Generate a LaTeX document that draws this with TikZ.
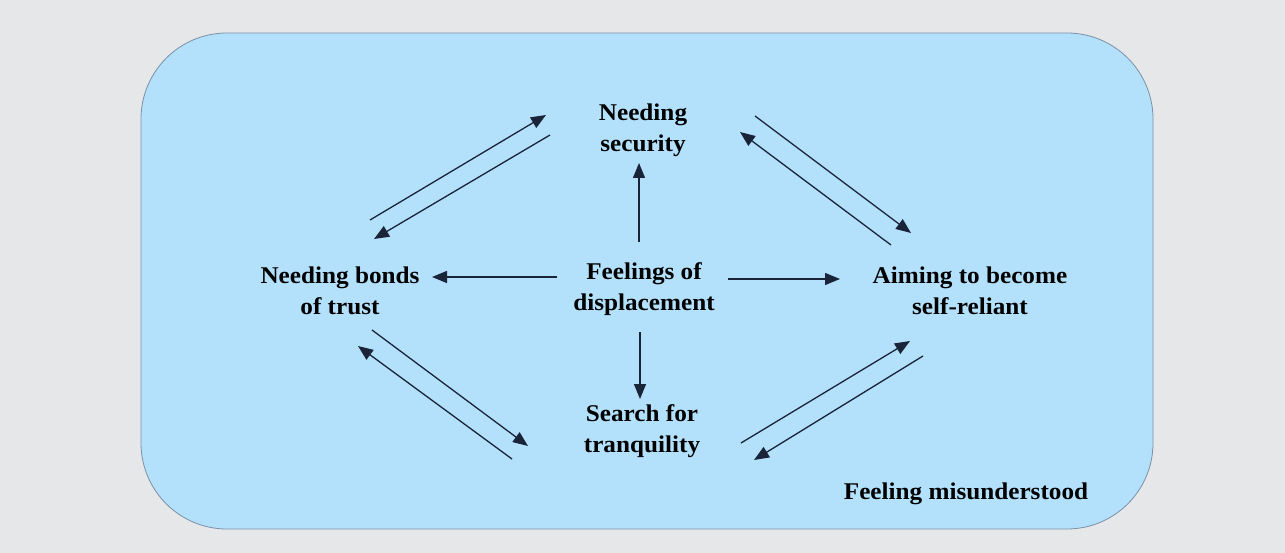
\documentclass[tikz,border=0pt]{standalone}
\usepackage{fontspec}
\setmainfont[FakeStretch=1.05]{Liberation Serif}
\usetikzlibrary{arrows.meta}
\definecolor{bggrey}{HTML}{E6E7E8}
\definecolor{boxblue}{HTML}{B3E1FC}
\definecolor{boxline}{HTML}{7C90A8}
\definecolor{arrcol}{HTML}{1A2438}
\tikzset{
  lbl/.style={align=center, inner sep=0pt, font=\bfseries\fontsize{24}{31}\selectfont, text=black},
  arr/.style={draw=arrcol, line width=1.3pt, -{Triangle[length=15pt,width=12pt]}},
}
\begin{document}
\begin{tikzpicture}[x=1pt,y=-1pt]
\path[use as bounding box, fill=bggrey] (0,0) rectangle (1285,553);
\path[fill=boxblue, draw=boxline, line width=0.8pt, rounded corners=86pt] (141,33) rectangle (1153,529);

\node[lbl] (sec) at (643,130) {Needing\\security};
\node[lbl] (bond) at (340,291) {Needing bonds\\of trust};
\node[lbl] (feel) at (644,289) {Feelings of\\displacement};
\node[lbl] (aim) at (970,291) {Aiming to become\\self-reliant};
\node[lbl] (calm) at (642,431) {Search for\\tranquility};
\node[lbl] (mis) at (966,494) {Feeling misunderstood};

% central arrows
\coordinate (cU1) at (639,242); \coordinate (cU2) at (639,163);
\coordinate (cL1) at (557,277); \coordinate (cL2) at (432,277);
\coordinate (cR1) at (728,279); \coordinate (cR2) at (840,279);
\coordinate (cD1) at (640,332); \coordinate (cD2) at (640,399);
\draw[arr] (cU1) -- (cU2);
\draw[arr] (cL1) -- (cL2);
\draw[arr] (cR1) -- (cR2);
\draw[arr] (cD1) -- (cD2);

% top-left pair
\coordinate (tl1) at (370,220); \coordinate (tl2) at (546,115);
\coordinate (tl3) at (550,135); \coordinate (tl4) at (374,239);
\draw[arr] (tl1) -- (tl2);
\draw[arr] (tl3) -- (tl4);

% top-right pair
\coordinate (tr1) at (755,116); \coordinate (tr2) at (911,233);
\coordinate (tr3) at (891,245); \coordinate (tr4) at (740,132);
\draw[arr] (tr1) -- (tr2);
\draw[arr] (tr3) -- (tr4);

% bottom-left pair
\coordinate (bl1) at (372,330); \coordinate (bl2) at (528,446);
\coordinate (bl3) at (512,459); \coordinate (bl4) at (358,346);
\draw[arr] (bl1) -- (bl2);
\draw[arr] (bl3) -- (bl4);

% bottom-right pair
\coordinate (br1) at (741,443); \coordinate (br2) at (910,341);
\coordinate (br3) at (923,356); \coordinate (br4) at (754,460);
\draw[arr] (br1) -- (br2);
\draw[arr] (br3) -- (br4);
\end{tikzpicture}
\end{document}
